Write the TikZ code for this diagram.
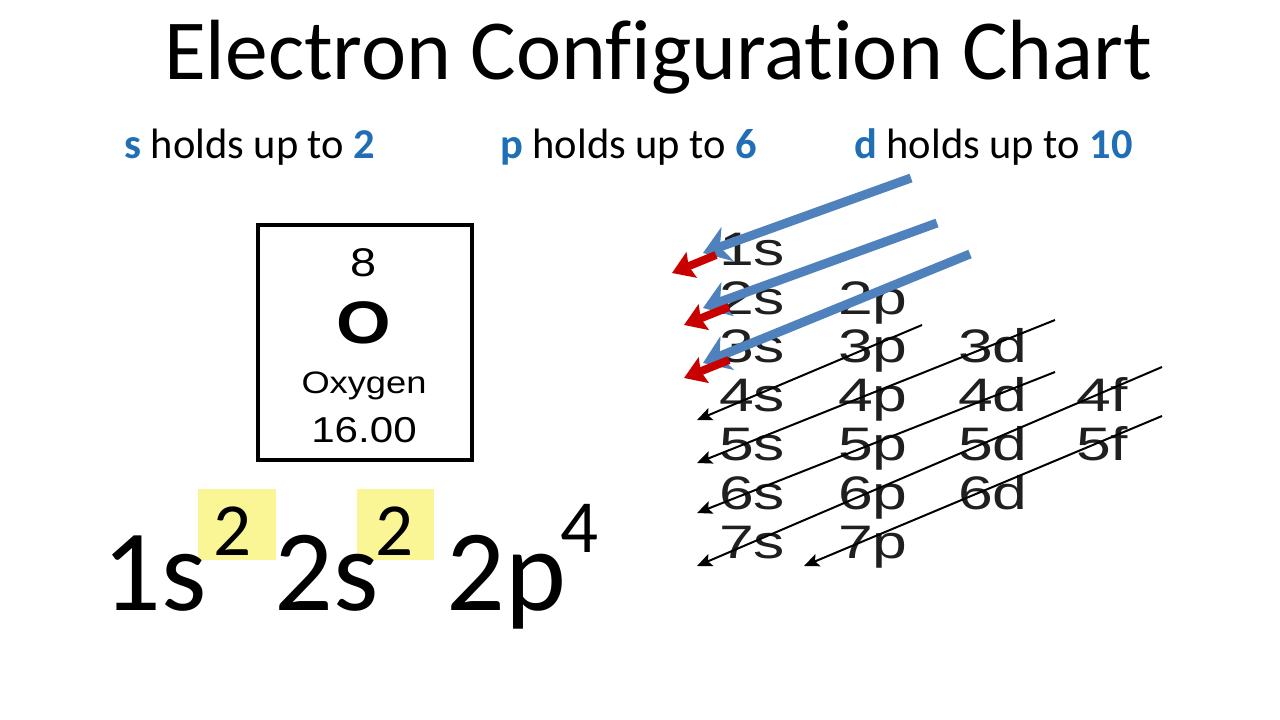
\documentclass[tikz,border=0pt]{standalone}
\usepackage{fontspec}
\usetikzlibrary{arrows.meta}
\setmainfont{Carlito}
\newfontfamily\calfont[Ligatures={NoCommon}]{Carlito}
\newfontfamily\boxfont[FakeStretch=1.17]{Liberation Sans}
\newfontfamily\chartfont[FakeStretch=1.33]{Liberation Sans}
\definecolor{hblue}{RGB}{31,110,182}
\definecolor{arrblue}{RGB}{79,129,189}
\definecolor{arrred}{RGB}{200,0,0}
\definecolor{hlyellow}{RGB}{250,246,150}
\tikzset{
  title/.style={anchor=base west,inner sep=0pt,font=\calfont\fontsize{85.5}{90}\selectfont},
  sub/.style={anchor=base west,inner sep=0pt,font=\calfont\fontsize{42.5}{50}\selectfont},
  orb/.style={anchor=base west,inner sep=0pt,font=\chartfont\fontsize{47}{50}\selectfont,text=black!88},
  big/.style={anchor=base west,inner sep=0pt,font=\calfont\fontsize{116}{120}\selectfont},
  sup/.style={anchor=base west,inner sep=0pt,font=\calfont\fontsize{75}{80}\selectfont},
  hl/.style={fill=hlyellow,draw=none},
  fill arrow/.style={line width=2pt,-{Stealth[length=15pt,width=13pt,inset=3pt]}},
  blue arrow/.style={draw=arrblue,line width=9pt,-{Stealth[length=26pt,width=36pt,inset=8pt]}},
  red arrow/.style={draw=arrred,line width=8pt,-{Stealth[length=21pt,width=27pt,inset=3pt]}},
  elembox/.style={draw,line width=3.5pt}
}
\begin{document}
\begin{tikzpicture}[x=1pt,y=-1pt]
\useasboundingbox[fill=white] (0,0) rectangle (1280,720);
% title
\node[title] (title) at (164,79) {Electron Configuration Chart};
% subtitles
\node[sub] (ss) at (124,158) {\textcolor{hblue}{\textbf{s}} holds up to \textcolor{hblue}{\textbf{2}}};
\node[sub] (ps) at (500,158) {\textcolor{hblue}{\textbf{p}} holds up to \textcolor{hblue}{\textbf{6}}};
\node[sub] (ds) at (854,158) {\textcolor{hblue}{\textbf{d}} holds up to \textcolor{hblue}{\textbf{10}}};
% element box
\draw[elembox] (258,225) rectangle (472,460);
\node[anchor=base,inner sep=0pt,font=\boxfont\fontsize{40}{42}\selectfont] (num) at (364,276) {8};
\node[anchor=base,inner sep=0pt,font=\boxfont\bfseries\fontsize{60}{62}\selectfont] (sym) at (364,343) {O};
\node[anchor=base,inner sep=0pt,font=\boxfont\fontsize{31}{33}\selectfont] (name) at (364,393) {Oxygen};
\node[anchor=base,inner sep=0pt,font=\boxfont\fontsize{36}{38}\selectfont] (mass) at (364,442) {16.00};
% configuration
\fill[hl] (198,489) rectangle (276,560);
\fill[hl] (357,489) rectangle (434,560);
\node[big] (c1) at (102,610) {1s};
\node[sup] (e1) at (213,555) {2};
\node[big] (c2) at (274,610) {2s};
\node[sup] (e2) at (375,555) {2};
\node[big] (c3) at (446,610) {2p};
\node[sup] (e3) at (560,552) {4};
% chart
\foreach \r/\y in {1/265,2/314,3/362,4/411,5/460,6/509,7/558}{
  \node[orb] (s\r) at (719,\y) {\r s};
}
\foreach \r/\y in {2/314,3/362,4/411,5/460,6/509,7/558}{
  \node[orb] (p\r) at (838,\y) {\r p};
}
\foreach \r/\y in {3/362,4/411,5/460,6/509}{
  \node[orb] (d\r) at (958,\y) {\r d};
}
\foreach \r/\y in {4/411,5/460}{
  \node[orb] (f\r) at (1076,\y) {\r f};
}
% black arrows
\coordinate (a4s) at (922,325); \coordinate (t4s) at (697,420);
\coordinate (a5s) at (1055,320); \coordinate (t5s) at (697,463);
\coordinate (a6s) at (1055,372); \coordinate (t6s) at (697,513);
\coordinate (a7s) at (1162,367); \coordinate (t7s) at (697,566);
\coordinate (a7p) at (1162,416); \coordinate (t7p) at (804,566);
\foreach \n in {4s,5s,6s,7s,7p}{
  \draw[fill arrow] (a\n) -- (t\n);
}
% blue arrows
\coordinate (b1) at (911,178); \coordinate (bt1) at (703,253);
\coordinate (b2) at (937,223); \coordinate (bt2) at (703,308);
\coordinate (b3) at (970,254); \coordinate (bt3) at (703,363);
\foreach \i in {1,2,3}{
  \draw[blue arrow] (b\i) -- (bt\i);
}
% red arrows
\coordinate (r1) at (716,255); \coordinate (rt1) at (672,273);
\coordinate (r2) at (729,307); \coordinate (rt2) at (684,325);
\coordinate (r3) at (729,360); \coordinate (rt3) at (684,378);
\foreach \i in {1,2,3}{
  \draw[red arrow] (r\i) -- (rt\i);
}
\end{tikzpicture}
\end{document}
